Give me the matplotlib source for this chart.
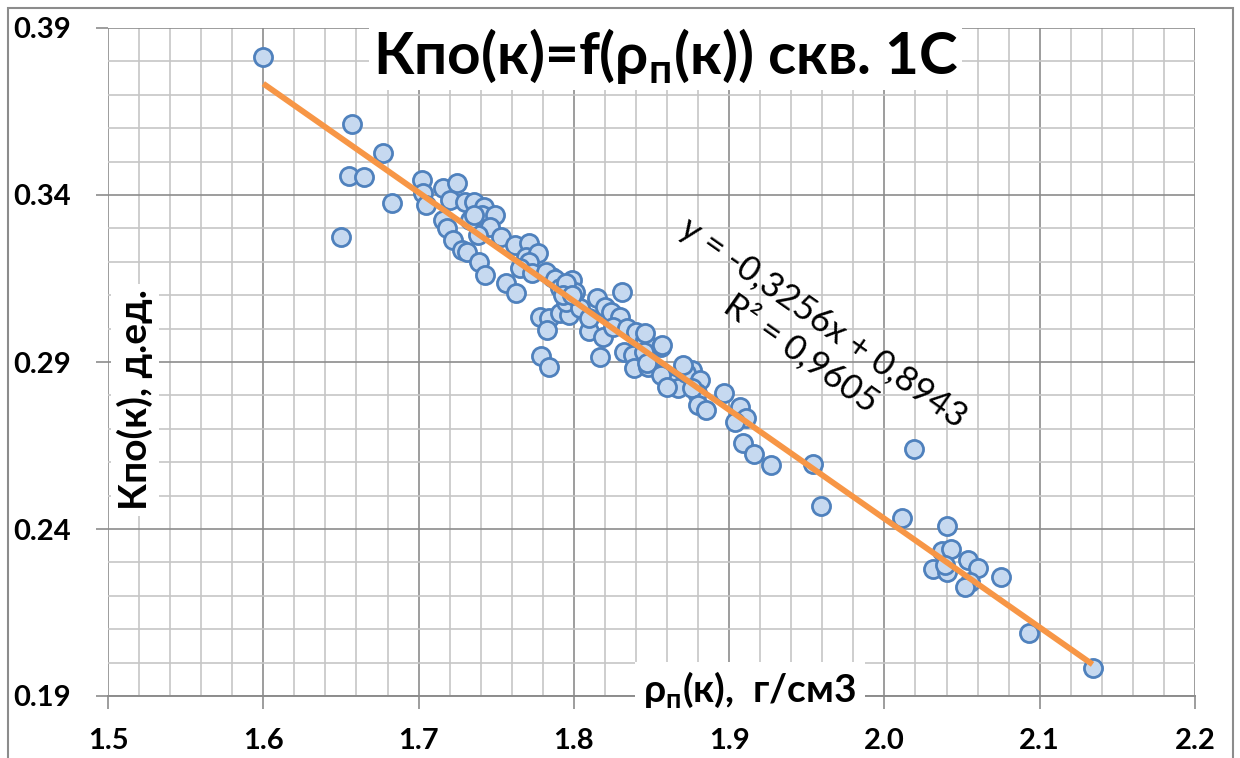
import matplotlib.pyplot as plt
from matplotlib.patches import Rectangle
from matplotlib.ticker import FormatStrFormatter, MultipleLocator

plt.rcParams["font.family"] = ["Lato", "Noto Sans", "DejaVu Sans"]

# core samples: bulk density (g/cm3) vs open porosity coefficient (fraction)
rho = [
    1.600, 1.657, 1.677, 1.655, 1.665, 1.683, 1.650,
    1.702, 1.703, 1.705, 1.716, 1.725, 1.720, 1.730, 1.736, 1.742, 1.741,
    1.749, 1.716, 1.718, 1.722, 1.728, 1.731, 1.739, 1.743, 1.746, 1.738,
    1.753, 1.762, 1.771, 1.769, 1.777, 1.786, 1.756, 1.763, 1.733, 1.736,
    1.771, 1.765, 1.773, 1.782, 1.788, 1.799, 1.791, 1.801, 1.778, 1.784,
    1.783, 1.791, 1.797, 1.795, 1.804, 1.815, 1.820, 1.826, 1.831, 1.810,
    1.819, 1.828, 1.779, 1.784,
    1.795, 1.793, 1.799, 1.824, 1.830, 1.810, 1.825, 1.834, 1.840, 1.846,
    1.817, 1.832, 1.838, 1.839, 1.848, 1.856, 1.857, 1.862, 1.867, 1.871,
    1.876, 1.872, 1.881, 1.879,
    1.846, 1.845, 1.857, 1.847, 1.856, 1.860, 1.870, 1.876, 1.880, 1.885,
    1.897, 1.907, 1.911, 1.904, 1.909, 1.916, 1.927, 1.954, 1.959,
    2.019, 2.011, 2.040, 2.037, 2.043, 2.031, 2.040, 2.039, 2.054, 2.060,
    2.055, 2.052, 2.075, 2.093, 2.134,
]
kpo = [
    0.3813, 0.3613, 0.3527, 0.3457, 0.3453, 0.3377, 0.3275,
    0.3445, 0.3405, 0.3370, 0.3420, 0.3435, 0.3385, 0.3380, 0.3380, 0.3365, 0.3340,
    0.3340, 0.3325, 0.3300, 0.3265, 0.3235, 0.3230, 0.3200, 0.3160, 0.3305, 0.3280,
    0.3275, 0.3250, 0.3255, 0.3214, 0.3225, 0.3155, 0.3136, 0.3106, 0.3325, 0.3340,
    0.3200, 0.3180, 0.3165, 0.3170, 0.3150, 0.3146, 0.3122, 0.3111, 0.3036, 0.3031,
    0.2996, 0.3046, 0.3041, 0.3081, 0.3061, 0.3091, 0.3066, 0.3041, 0.3111, 0.2994,
    0.2976, 0.3025, 0.2918, 0.2886,
    0.3136, 0.3101, 0.3101, 0.3051, 0.3036, 0.3031, 0.3006, 0.3001, 0.2991, 0.2966,
    0.2916, 0.2931, 0.2921, 0.2881, 0.2886, 0.2946, 0.2866, 0.2836, 0.2821, 0.2886,
    0.2876, 0.2866, 0.2846, 0.2806,
    0.2986, 0.2931, 0.2951, 0.2896, 0.2861, 0.2826, 0.2891, 0.2821, 0.2771, 0.2756,
    0.2806, 0.2766, 0.2731, 0.2721, 0.2658, 0.2625, 0.2592, 0.2595, 0.2469,
    0.2640, 0.2432, 0.2409, 0.2335, 0.2339, 0.2280, 0.2272, 0.2292, 0.2307, 0.2282,
    0.2242, 0.2227, 0.2255, 0.2088, 0.1983,
]

# linear trend as reported on the chart
slope, intercept, r2 = -0.3256, 0.8943, 0.9605

x_ticks = [1.5, 1.6, 1.7, 1.8, 1.9, 2.0, 2.1, 2.2]
y_ticks = [0.19, 0.24, 0.29, 0.34, 0.39]

W, H = 1240, 758
fig = plt.figure(figsize=(W / 100, H / 100), dpi=100)
ax = fig.add_axes([108 / W, 1 - 696 / H, (1195 - 108) / W, (696 - 28) / H])

major_c, minor_c = "#8c8c8c", "#c6c6c6"

ax.scatter(rho, kpo, s=170, facecolor="#c6d9f0", edgecolor="#4f81bd",
           linewidths=2.0, zorder=3)
x_fit = [min(rho), max(rho)]
ax.plot(x_fit, [slope * x + intercept for x in x_fit], color="#f79646",
        linewidth=4.2, solid_capstyle="butt", zorder=4)

ax.set_xlim(x_ticks[0], x_ticks[-1])
ax.set_ylim(y_ticks[0], y_ticks[-1])
ax.set_xticks(x_ticks)
ax.set_yticks(y_ticks)
ax.xaxis.set_minor_locator(MultipleLocator(0.02))
ax.yaxis.set_minor_locator(MultipleLocator(0.01))
ax.xaxis.set_major_formatter(FormatStrFormatter("%.1f"))
ax.yaxis.set_major_formatter(FormatStrFormatter("%.2f"))

ax.grid(which="minor", color=minor_c, linewidth=1.2, zorder=0)
ax.grid(which="major", color=major_c, linewidth=1.2, zorder=0)
ax.set_axisbelow(True)

for side in ("top", "right", "left"):
    ax.spines[side].set_visible(False)
ax.spines["bottom"].set_color(major_c)
ax.spines["bottom"].set_linewidth(1.4)

ax.tick_params(which="minor", length=0)
ax.tick_params(axis="x", which="major", direction="out", length=9,
               width=1.2, color=major_c, pad=14, labelsize=21)
ax.tick_params(axis="y", which="major", direction="out", length=9,
               width=1.2, color=major_c, pad=18, labelsize=21)
for lab in ax.get_xticklabels() + ax.get_yticklabels():
    lab.set_fontweight("bold")

box = dict(facecolor="white", edgecolor="none", pad=3)

ax.text(0.513, 0.958, r"Кпо(к)=f(ρ$_\mathregular{п}$(к)) скв. 1С",
        transform=ax.transAxes, ha="center", va="center", fontsize=42,
        fontweight="bold", bbox=box, zorder=5)

ax.text(0.648, 0.536, f"y = {slope:.4f}x + {intercept:.4f}\nR² = {r2:.4f}".replace(".", ","),
        transform=ax.transAxes, ha="center", va="center", ma="center",
        rotation=-35, rotation_mode="anchor", fontsize=25, zorder=5)

fig.text(750 / W, 1 - 690 / H, r"ρ$_\mathregular{п}$(к),  г/см3",
         ha="center", va="center", fontsize=28, fontweight="bold",
         bbox=dict(facecolor="white", edgecolor="none", pad=6), zorder=6)
fig.text(135 / W, 1 - 400 / H, "Кпо(к), д.ед.", rotation=90,
         ha="center", va="center", fontsize=28, fontweight="bold",
         bbox=dict(facecolor="white", edgecolor="none", pad=4), zorder=6)

fig.patches.append(Rectangle((8 / W, -0.02), 1225 / W, 1 - 8 / H + 0.02,
                             transform=fig.transFigure, fill=False,
                             edgecolor="#8c8c8c", linewidth=1.5))

fig.savefig("out.png", dpi=100)
